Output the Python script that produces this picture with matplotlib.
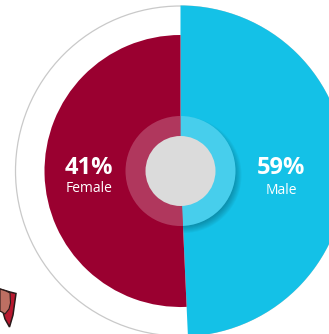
import numpy as np
import matplotlib
matplotlib.use("Agg")
import matplotlib.pyplot as plt
from matplotlib.patches import Wedge, Circle, Polygon

categories = ["Male", "Female"]
shares = [59, 41]
colors = ["#14c1e7", "#9a0030"]
radii = [165.5, 136]

plt.rcParams['font.family'] = ['Open Sans', 'DejaVu Sans']

W, H = 329, 334
cx, cy = 180.5, H - 171

fig = plt.figure(figsize=(W / 100, H / 100), dpi=100)
ax = fig.add_axes([0, 0, 1, 1])
ax.set_xlim(0, W)
ax.set_ylim(0, H)
ax.axis('off')

# each slice's area follows its share, so the angle depends on the radius too
weights = [s / r ** 2 for s, r in zip(shares, radii)]
sweep = [360 * w / sum(weights) for w in weights]


def draw_slices(clip=None):
    start = 90
    out = []
    for i in range(2):
        end = start - sweep[i]
        p = Wedge((cx, cy), radii[i], end, start, fc=colors[i], ec='none', zorder=3)
        ax.add_patch(p)
        if clip is not None:
            p.set_clip_path(clip)
            p.set_zorder(5)
        out.append(p)
        start = end
    return out


ax.add_patch(Circle((cx, cy), 165, fc='white', ec='#c9c9c9', lw=0.9, zorder=1))
slices = draw_slices()

# soft shadow under the ring, towards the lower right, only on the blue slice
for r in np.arange(58, 50, -1.0):
    s = Circle((cx + 3, cy - 4), r, fc='#0a3a4a', ec='none', alpha=0.05, zorder=4)
    ax.add_patch(s)
    s.set_clip_path(slices[0])

# repaint the slices inside the ring so the shadow only falls outside it
ring_clip = Circle((cx, cy), 55, transform=ax.transData)
draw_slices(ring_clip)

ax.add_patch(Circle((cx, cy), 55, fc='white', ec='none', alpha=0.22, zorder=6))
ax.add_patch(Circle((cx, cy), 35, fc='#dbdbdb', ec='none', zorder=7))

# small figure cut off at the lower left edge
ax.add_patch(Polygon([(0, H - 289), (10, H - 292), (16, H - 293.5), (13, H - 315), (9.5, H - 327),
                      (5, H - 319), (3, H - 312), (0, H - 311)],
                     closed=True, fc='#b8182f', ec='#2a1a1a', lw=1.1, zorder=2))
ax.add_patch(Polygon([(0, H - 289), (6, H - 291), (10, H - 293), (10.5, H - 303), (9, H - 309),
                      (5, H - 314), (2, H - 312), (0, H - 311)],
                     closed=True, fc='#bd6f62', ec='#2a1a1a', lw=0.8, zorder=2))

ax.text(281, H - 168, "59%", color='white', fontsize=17, fontweight='bold', ha='center', va='center', zorder=8)
ax.text(281, H - 190, "Male", color='white', fontsize=10, ha='center', va='center', zorder=8)
ax.text(89, H - 168, "41%", color='white', fontsize=17, fontweight='bold', ha='center', va='center', zorder=8)
ax.text(89, H - 188, "Female", color='white', fontsize=10, ha='center', va='center', zorder=8)

fig.savefig("out.png", dpi=100)
